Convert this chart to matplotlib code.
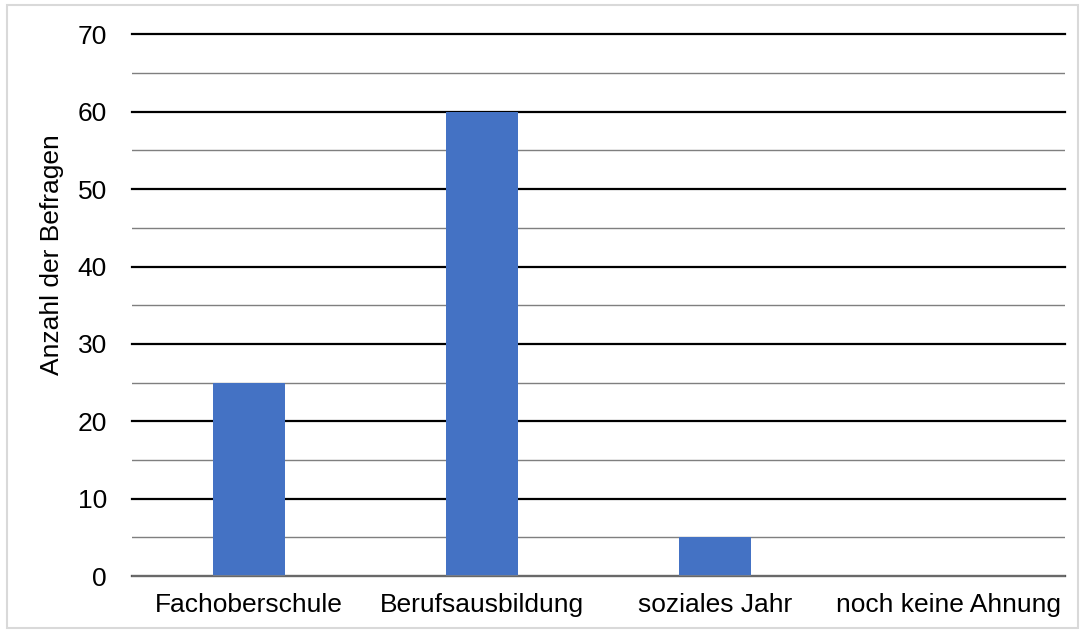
import matplotlib
matplotlib.use("Agg")
from matplotlib import pyplot as plt
from matplotlib.patches import Rectangle
from matplotlib.ticker import MultipleLocator

categories = ["Fachoberschule", "Berufsausbildung", "soziales Jahr", "noch keine Ahnung"]
counts = [25, 60, 5, 0]
y_label = "Anzahl der Befragen"

plt.rcParams["font.family"] = ["Liberation Sans", "DejaVu Sans"]

fig = plt.figure(figsize=(10.84, 6.33), dpi=100)
ax = fig.add_axes([0.1218, 0.090, 0.8607, 0.8557])

x = range(len(categories))
ax.bar(x, counts, width=0.31, color="#4472c4", zorder=3)

ax.set_xlim(-0.5, len(categories) - 0.5)
ax.set_ylim(0, 70)
ax.yaxis.set_major_locator(MultipleLocator(10))
ax.yaxis.set_minor_locator(MultipleLocator(5))
ax.grid(axis="y", which="major", color="#000000", linewidth=1.6, zorder=1)
ax.grid(axis="y", which="minor", color="#7f7f7f", linewidth=1.0, zorder=1)
for line in ax.get_ygridlines():
    line.set_clip_on(False)

for side in ["top", "right", "left"]:
    ax.spines[side].set_visible(False)
ax.spines["bottom"].set_color("#7f7f7f")
ax.spines["bottom"].set_linewidth(1.2)
ax.spines["bottom"].set_zorder(4)

ax.set_xticks(list(x))
ax.set_xticklabels(categories, fontsize=19)
ax.tick_params(axis="x", length=0, pad=12)
ax.tick_params(axis="y", which="both", length=0, pad=18, labelsize=19)
ax.set_ylabel(y_label, fontsize=19, labelpad=10, y=0.593)

# light frame around the whole chart
fig.patches.append(Rectangle((0.0065, 0.008), 0.988, 0.984, transform=fig.transFigure,
                             fill=False, edgecolor="#d9d9d9", linewidth=1.5))

fig.savefig("out.png", dpi=100)
